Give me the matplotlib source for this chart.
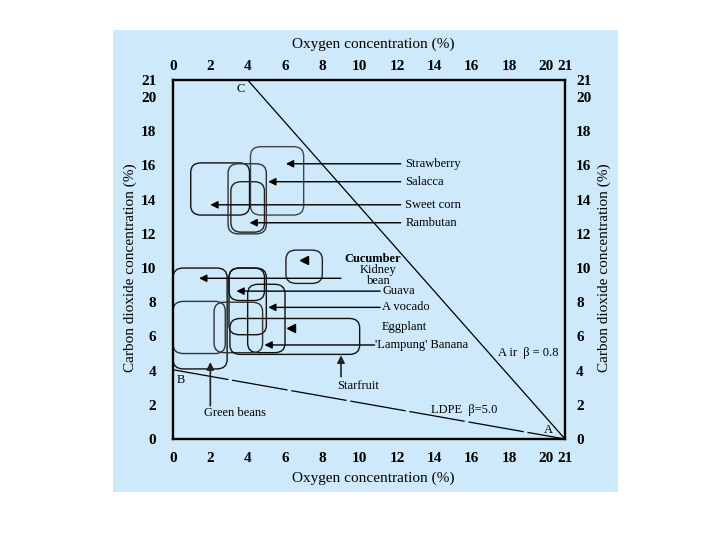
import matplotlib
matplotlib.use("Agg")
import matplotlib.pyplot as plt
from matplotlib.patches import FancyBboxPatch, Rectangle

plt.rcParams['font.family'] = ['Liberation Serif', 'DejaVu Serif']

# ---- data ----
x_ticks = [0, 2, 4, 6, 8, 10, 12, 14, 16, 18, 20, 21]
y_ticks = [0, 2, 4, 6, 8, 10, 12, 14, 16, 18, 20, 21]

# recommended atmosphere windows: O2 range (x) and CO2 range (y)
box_names = ['Strawberry', 'Sweet corn', 'Salacca', 'Rambutan', 'Cucumber',
             'Kidney bean', 'Green beans', 'Guava', 'Eggplant', 'Avocado',
             "'Lampung' Banana", 'Starfruit']
box_o2_lo = [4.15, 0.95, 2.95, 3.1, 6.05, 0.0, 0.0, 3.0, 3.0, 4.0, 2.2, 3.05]
box_o2_hi = [7.0, 4.1, 5.0, 4.9, 8.0, 2.9, 2.8, 4.9, 5.0, 6.0, 4.8, 10.0]
box_co2_lo = [13.1, 13.1, 12.0, 12.1, 9.1, 4.1, 5.0, 8.1, 6.1, 5.05, 5.05, 4.95]
box_co2_hi = [17.1, 16.15, 16.1, 15.05, 11.05, 10.0, 8.05, 10.0, 10.0, 9.05, 8.0, 7.05]
box_colors = ['#444444', '#111111', '#333333', '#222222', '#222222',
              '#111111', '#333333', '#111111', '#111111', '#111111',
              '#333333', '#111111']

# labels with horizontal arrows
lab_text = ['Strawberry', 'Salacca', 'Sweet corn', 'Rambutan', 'Guava',
            'A vocado', "'Lampung' Banana"]
lab_x = [12.45, 12.45, 12.45, 12.45, 11.2, 11.2, 10.8]
lab_y = [16.1, 15.05, 13.7, 12.65, 8.65, 7.7, 5.5]
arr_x0 = [12.2, 12.2, 12.2, 12.2, 11.1, 11.1, 10.8]
arr_x1 = [6.05, 5.1, 2.0, 4.1, 3.4, 5.1, 4.9]

# head-only markers
head_x = [7.0, 6.3]
head_y = [10.45, 6.5]

# vertical arrows from below
vert_x = [9.0, 2.0]
vert_y0 = [3.65, 1.95]
vert_y1 = [4.9, 4.5]
vert_text = ['Starfruit', 'Green beans']
vert_tx = [9.9, 3.3]
vert_ty = [3.1, 1.5]

# film lines
air_x = [4, 21]
air_y = [21, 0]
ldpe_x = [0, 21]
ldpe_y = [4.05, 0]

BG = '#cde9fa'

fig = plt.figure(figsize=(7.2, 5.4), dpi=100)
bg = Rectangle((113/720, 48/540), 505/720, 462/540,
               transform=fig.transFigure, facecolor=BG,
               edgecolor='none', zorder=-10)
fig.add_artist(bg)

ax = fig.add_axes([173/720, 1 - 439/540, 392/720, 359/540])
ax.set_zorder(5)
ax.set_facecolor(BG)
ax.set_xlim(0, 21)
ax.set_ylim(0, 21)
for s in ax.spines.values():
    s.set_linewidth(1.7)
    s.set_color('black')

tick_font = dict(fontsize=11, fontweight='bold')
ax.set_xticks(x_ticks)
ax.set_xticklabels([str(t) for t in x_ticks], **tick_font)
ax.set_yticks(y_ticks)
ax.set_yticklabels([str(t) for t in y_ticks], **tick_font)
ax.tick_params(axis='x', length=0, pad=9)
ax.tick_params(axis='y', length=0, pad=12)

top = ax.secondary_xaxis('top')
top.set_xticks(x_ticks)
top.set_xticklabels([str(t) for t in x_ticks], **tick_font)
top.tick_params(length=0, pad=5)
right = ax.secondary_yaxis('right')
right.set_yticks(y_ticks)
right.set_yticklabels([str(t) for t in y_ticks], **tick_font)
right.tick_params(length=0, pad=8)
for sa in (top, right):
    for s in sa.spines.values():
        s.set_visible(False)

fig.text(373/720, 1 - 44/540, 'Oxygen concentration (%)', ha='center', va='center', fontsize=11)
fig.text(373/720, 1 - 478/540, 'Oxygen concentration (%)', ha='center', va='center', fontsize=11)
fig.text(130/720, 1 - 268/540, 'Carbon dioxide concentration (%)', ha='center', va='center',
         rotation=90, fontsize=11)
fig.text(604/720, 1 - 268/540, 'Carbon dioxide concentration (%)', ha='center', va='center',
         rotation=90, fontsize=11)

# film lines
ax.plot(air_x, air_y, color='black', lw=0.9, zorder=3)
ax.plot(ldpe_x, ldpe_y, color='black', lw=0.9, zorder=3, dashes=(45, 3))

# boxes
for n, x0, x1, y0, y1, c in zip(box_names, box_o2_lo, box_o2_hi, box_co2_lo, box_co2_hi, box_colors):
    p = FancyBboxPatch((x0, y0), x1 - x0, y1 - y0,
                       boxstyle='round,pad=0,rounding_size=0.55',
                       facecolor='none', edgecolor=c, lw=1.0, zorder=2)
    ax.add_patch(p)

afont = dict(fontsize=9)
for t, tx, ty, x0, x1 in zip(lab_text, lab_x, lab_y, arr_x0, arr_x1):
    ax.annotate('', xy=(x1, ty), xytext=(x0, ty),
                arrowprops=dict(arrowstyle='-|>', color='black', lw=1.0,
                                mutation_scale=11, shrinkA=0, shrinkB=0))
    ax.text(tx, ty, t, ha='left', va='center', **afont)

# kidney bean arrow and label, cucumber / eggplant labels
ax.annotate('', xy=(1.4, 9.4), xytext=(9.0, 9.4),
            arrowprops=dict(arrowstyle='-|>', color='black', lw=1.0,
                            mutation_scale=11, shrinkA=0, shrinkB=0))
ax.text(9.2, 10.55, 'Cucumber', ha='left', va='center', fontsize=9, fontweight='bold')
ax.text(11.0, 9.55, 'Kidney\nbean', ha='center', va='center', linespacing=0.9, **afont)
ax.text(11.2, 6.55, 'Eggplant', ha='left', va='center', **afont)

ax.plot(head_x, head_y, marker='<', color='black', markersize=6, lw=0, zorder=4)

for x, y0, y1, t, tx, ty in zip(vert_x, vert_y0, vert_y1, vert_text, vert_tx, vert_ty):
    ax.annotate('', xy=(x, y1), xytext=(x, y0),
                arrowprops=dict(arrowstyle='-|>', color='#222222', lw=1.2,
                                mutation_scale=11, shrinkA=0, shrinkB=0))
    ax.text(tx, ty, t, ha='center', va='center', **afont)

ax.text(3.6, 20.45, 'C', ha='center', va='center', fontsize=9)
ax.text(0.4, 3.45, 'B', ha='center', va='center', fontsize=9)
ax.text(20.1, 0.5, 'A', ha='center', va='center', fontsize=9)
ax.text(17.4, 5.05, 'A ir  β = 0.8', ha='left', va='center', fontsize=9)
ax.text(13.8, 1.7, 'LDPE  β=5.0', ha='left', va='center', fontsize=9)

fig.savefig('out.png', dpi=100)
